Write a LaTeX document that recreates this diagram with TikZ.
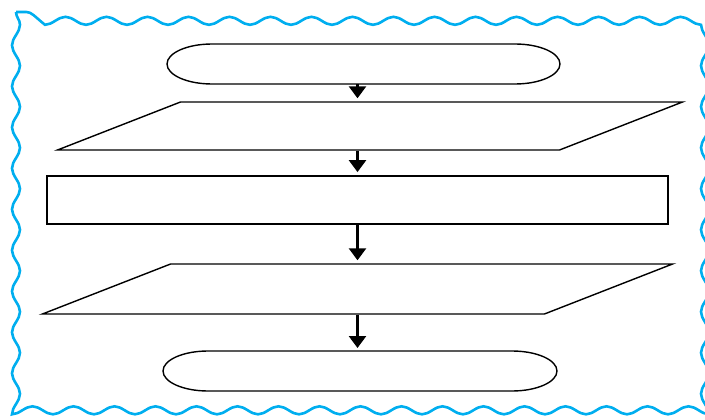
\documentclass[tikz,border=0pt]{standalone}
\usetikzlibrary{arrows.meta,decorations.pathmorphing}
\definecolor{wavyblue}{RGB}{0,174,239}

\begin{document}
\begin{tikzpicture}[x=1pt, y=-1pt, line width=1.4pt,
    flow/.style={line width=2.6pt, -{Triangle[width=17pt,length=12pt]}, shorten >=3pt},
    blank/.style={rectangle, draw=none, inner sep=0pt, outer sep=0pt},
    iobox/.style={rectangle, draw, inner sep=0pt, minimum width=502pt,
      xslant=2.5625, transform shape}]
      \useasboundingbox (0,0) rectangle (705,420);
      % wavy frame
      \draw[wavyblue, line width=2.6pt, decorate,
        decoration={snake, amplitude=4pt, segment length=41pt}]
        (16,12) rectangle (699,413);
      % start / end terminals
      \node[blank, minimum width=393pt, minimum height=40pt] (start) at (363.5,64) {};
      \node[blank, minimum width=394pt, minimum height=40pt] (stop) at (360,371) {};
      \foreach \t in {start,stop}
        \draw (\t.west)
          arc[start angle=180, end angle=90, x radius=45pt, y radius=20pt]
          -- ([xshift=-45pt]\t.north east)
          arc[start angle=90, end angle=-90, x radius=45pt, y radius=20pt]
          -- ([xshift=45pt]\t.south west)
          arc[start angle=270, end angle=180, x radius=45pt, y radius=20pt] -- cycle;
      % input and output
      \node[iobox, minimum height=48pt] (input) at (370,126) {};
      \node[iobox, minimum height=50pt] (output) at (357.5,289) {};
      % process
      \node[rectangle, draw, line width=1.8pt, minimum width=621pt,
        minimum height=48pt] (proc) at (357.5,200) {};
      \draw[flow] (start.south -| proc.north) -- (input.north -| proc.north);
      \draw[flow] (input.south -| proc.north) -- (proc.north);
      \draw[flow] (proc.south) -- (output.north -| proc.north);
      \draw[flow] (output.south -| proc.north) -- (stop.north -| proc.north);
\end{tikzpicture}
\end{document}
